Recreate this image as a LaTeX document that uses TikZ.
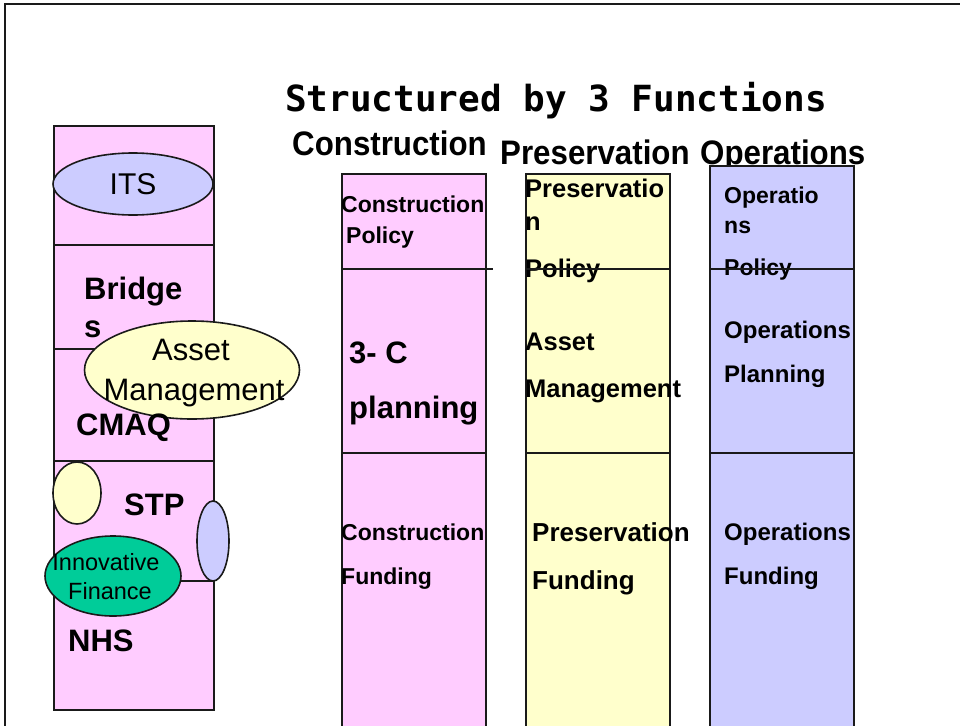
\documentclass[tikz,border=0pt]{standalone}
\usepackage{fontspec}
\setmainfont{Liberation Sans}
\newfontfamily\titlefont{DejaVu Sans Mono}
\newfontfamily\headfont[FakeStretch=0.92]{Liberation Sans}
\usetikzlibrary{shapes.geometric}
\definecolor{pinkc}{HTML}{FFCCFF}
\definecolor{yellowc}{HTML}{FFFFCC}
\definecolor{bluec}{HTML}{CCCCFF}
\definecolor{greenc}{HTML}{00CC99}
\definecolor{linec}{HTML}{1A1A1A}
\newcommand{\fs}[1]{\fontsize{#1}{#1}\selectfont}
\tikzset{
  box/.style={draw=linec, line width=1.8pt, rectangle, inner sep=0pt, anchor=north west},
  oval/.style={draw=linec, line width=1.6pt, ellipse, inner sep=0pt},
  divider/.style={draw=linec, line width=1.8pt},
  frameline/.style={draw=linec, line width=1.5pt},
  txt/.style={inner sep=0pt, anchor=base west},
  ctxt/.style={inner sep=0pt, anchor=base},
}
\begin{document}
\begin{tikzpicture}[x=1pt,y=-1pt]
\useasboundingbox (0,0) rectangle (960,725);
\clip (0,0) rectangle (960,725);
\fill[white] (0,0) rectangle (960,725);
% frame
\coordinate (ftr) at (962,4);
\coordinate (ftl) at (5,4);
\coordinate (fbl) at (5,730);
\draw[frameline] (ftr) -- (ftl) -- (fbl);

% title
\node[txt, font=\titlefont\bfseries\fs{36}] (title) at (285,111) {Structured by 3 Functions};
\node[txt, font=\headfont\bfseries\fs{34}] (hcon) at (292,155) {Construction};
\node[txt, font=\headfont\bfseries\fs{34}] (hpre) at (500,164) {Preservation};
\node[txt, font=\headfont\bfseries\fs{34}] (hops) at (700,164) {Operations};

% left column
\node[box, fill=pinkc, minimum width=160pt, minimum height=584pt] (lc) at (53,125) {};
\coordinate (l1a) at (53,245); \coordinate (l1b) at (213,245);
\coordinate (l2a) at (53,349); \coordinate (l2b) at (213,349);
\coordinate (l3a) at (53,461); \coordinate (l3b) at (213,461);
\coordinate (l4a) at (53,581); \coordinate (l4b) at (213,581);
\draw[divider] (l1a) -- (l1b);
\draw[divider] (l2a) -- (l2b);
\draw[divider] (l3a) -- (l3b);
\draw[divider] (l4a) -- (l4b);

\node[oval, fill=bluec, minimum width=160pt, minimum height=62pt] (its) at (133,184) {};
\node[ctxt, font=\fs{30}] (itst) at (133,194) {ITS};

\node[txt, font=\bfseries\fs{31}] (bridge) at (84,299) {Bridge};
\node[txt, font=\bfseries\fs{31}] (bridges) at (84,337) {s};

\node[oval, fill=yellowc, minimum width=215pt, minimum height=98pt] (am) at (192,370) {};
\node[ctxt, font=\fs{31}] (amt1) at (191,360) {Asset};
\node[ctxt, font=\fs{31}] (amt2) at (194,400) {Management};

\node[txt, font=\bfseries\fs{31}] (cmaq) at (76,435) {CMAQ};

\node[oval, fill=yellowc, minimum width=48pt, minimum height=62pt] (sy) at (77,493) {};
\node[txt, font=\bfseries\fs{31}] (stp) at (124,515) {STP};
\node[oval, fill=bluec, minimum width=32pt, minimum height=80pt] (sb) at (213,541) {};
\node[oval, fill=greenc, minimum width=136pt, minimum height=80pt] (inv) at (113,576) {};
\node[ctxt, font=\fs{23.5}] (invt1) at (106,570) {Innovative};
\node[ctxt, font=\fs{23.5}] (invt2) at (110,599) {Finance};
\node[txt, font=\bfseries\fs{31}] (nhs) at (68,651) {NHS};

% construction column
\node[box, fill=pinkc, minimum width=144pt, minimum height=570pt] (cc) at (341,173) {};
\coordinate (c1a) at (341,269); \coordinate (c1b) at (493,269);
\coordinate (c2a) at (341,453); \coordinate (c2b) at (485,453);
\draw[divider] (c1a) -- (c1b);
\draw[divider] (c2a) -- (c2b);
\node[txt, font=\bfseries\fs{23}] (ct1) at (341,212) {Construction};
\node[txt, font=\bfseries\fs{23}] (ct2) at (346,243) {Policy};
\node[txt, font=\bfseries\fs{31}] (ct3) at (349,363) {3- C};
\node[txt, font=\bfseries\fs{31}] (ct4) at (349,418) {planning};
\node[txt, font=\bfseries\fs{23}] (ct5) at (341,540) {Construction};
\node[txt, font=\bfseries\fs{23}] (ct6) at (341,584) {Funding};

% preservation column
\node[box, fill=yellowc, minimum width=144pt, minimum height=570pt] (pc) at (525,173) {};
\coordinate (p1a) at (525,269); \coordinate (p1b) at (669,269);
\coordinate (p2a) at (525,453); \coordinate (p2b) at (669,453);
\node[txt, font=\bfseries\fs{25.5}] (pt1) at (525,197) {Preservatio};
\node[txt, font=\bfseries\fs{25.5}] (pt2) at (525,230) {n};
\node[txt, font=\bfseries\fs{25.5}] (pt3) at (525,277) {Policy};
\draw[divider] (p1a) -- (p1b);
\draw[divider] (p2a) -- (p2b);
\node[txt, font=\bfseries\fs{25.5}] (pt4) at (525,350) {Asset};
\node[txt, font=\bfseries\fs{25.5}] (pt5) at (525,397) {Management};
\node[txt, font=\bfseries\fs{26}] (pt6) at (532,541) {Preservation};
\node[txt, font=\bfseries\fs{26}] (pt7) at (532,589) {Funding};

% operations column
\node[box, fill=bluec, minimum width=144pt, minimum height=580pt] (oc) at (709,165) {};
\coordinate (o1a) at (709,269); \coordinate (o1b) at (853,269);
\coordinate (o2a) at (709,453); \coordinate (o2b) at (853,453);
\node[txt, font=\bfseries\fs{23}] (ot1) at (724,203) {Operatio};
\node[txt, font=\bfseries\fs{23}] (ot2) at (724,233) {ns};
\node[txt, font=\bfseries\fs{23}] (ot3) at (724,275) {Policy};
\draw[divider] (o1a) -- (o1b);
\draw[divider] (o2a) -- (o2b);
\node[txt, font=\bfseries\fs{24}] (ot4) at (724,338) {Operations};
\node[txt, font=\bfseries\fs{24}] (ot5) at (724,382) {Planning};
\node[txt, font=\bfseries\fs{24}] (ot6) at (724,540) {Operations};
\node[txt, font=\bfseries\fs{24}] (ot7) at (724,584) {Funding};
\end{tikzpicture}
\end{document}
